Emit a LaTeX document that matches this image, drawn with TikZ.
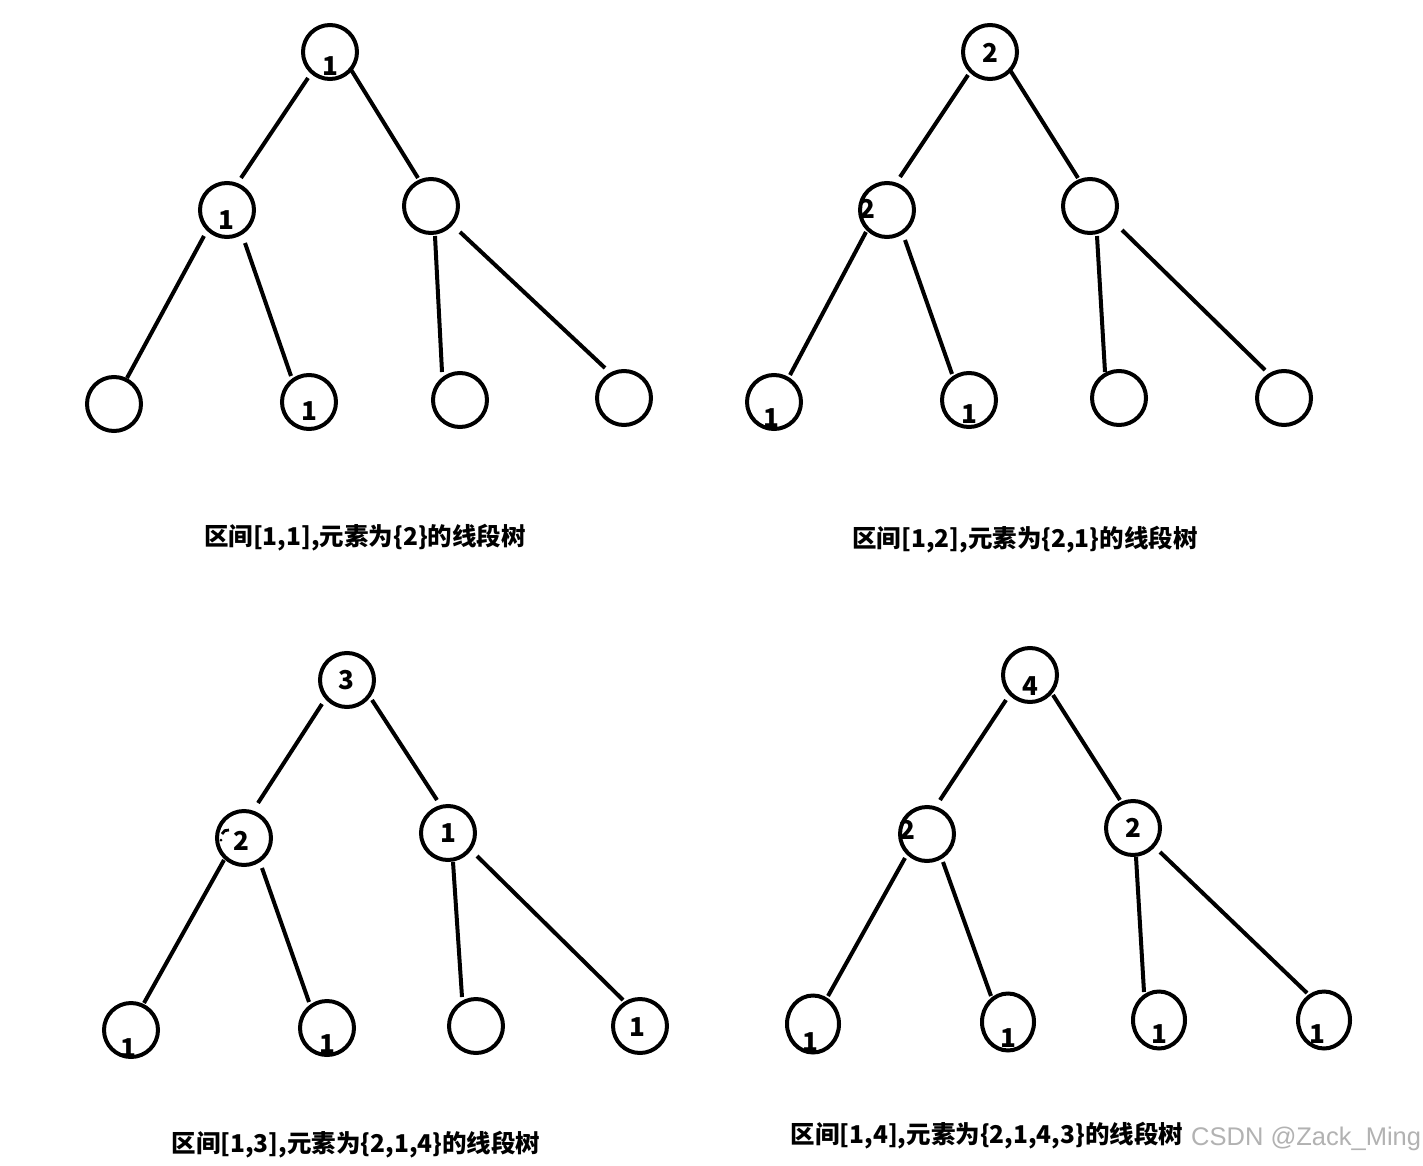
\documentclass[tikz,border=0pt]{standalone}
\usepackage{fontspec}
\usetikzlibrary{shapes.geometric}
\newfontfamily\cjk{Noto Sans CJK SC}
\newfontfamily\wmfont{Liberation Sans}
\newcommand\sedge[6]{\draw[lnk] ([shift={(#2,#3)}]#1.center) -- ([shift={(#5,#6)}]#4.center);}
\begin{document}
\begin{tikzpicture}[x=1pt,y=-1pt,
  nd/.style={draw,circle,line width=4pt,minimum size=54pt,inner sep=0pt},
  ndel/.style={draw,ellipse,line width=4pt,minimum width=52pt,minimum height=57pt,inner sep=0pt},
  lnk/.style={line width=4pt},
  num/.style={font=\cjk\bfseries\fontsize{26}{26}\selectfont,inner sep=0pt},
  captext/.style={font=\cjk\bfseries\fontsize{24.5}{27}\selectfont,inner sep=0pt},
  wmtext/.style={font=\wmfont\fontsize{25.5}{27}\selectfont,text=black!30,inner sep=0pt}]
\fill[white] (0,0) rectangle (1423,1166);
\useasboundingbox (0,0) rectangle (1423,1166);
% ---------- tree 1 ----------
\node[nd] (a0) at (330,52) {};
\node[nd] (a1) at (227,210) {};
\node[nd] (a2) at (431,206) {};
\node[nd] (a3) at (114,404) {};
\node[nd] (a4) at (309,402) {};
\node[nd] (a5) at (460,400) {};
\node[nd] (a6) at (624,398) {};
\node[num] (ta0) at (330,66) {1};
\node[num] (ta1) at (226,220) {1};
\node[num] (ta4) at (309,411) {1};
\sedge{a0}{-22}{26}{a1}{14}{-32}
\sedge{a0}{20}{16}{a2}{-13}{-28}
\sedge{a1}{-23}{26}{a3}{13}{-26}
\sedge{a1}{18}{33}{a4}{-18}{-26}
\sedge{a2}{4}{30}{a5}{-18}{-28}
\sedge{a2}{29}{26}{a6}{-19}{-30}
\node[captext] (ca) at (365,538) {区间[1,1],元素为\{2\}的线段树};
% ---------- tree 2 ----------
\node[nd] (b0) at (990,52) {};
\node[nd] (b1) at (887,210) {};
\node[nd] (b2) at (1090,206) {};
\node[nd] (b3) at (774,402) {};
\node[nd] (b4) at (969,400) {};
\node[nd] (b5) at (1119,398) {};
\node[nd] (b6) at (1284,398) {};
\node[num] (tb0) at (990,53) {2};
\node[num] (tb1) at (867,209) {2};
\node[num] (tb3) at (771,418) {1};
\node[num] (tb4) at (969,414) {1};
\sedge{b0}{-22}{23}{b1}{13}{-33}
\sedge{b0}{20}{18}{b2}{-12}{-28}
\sedge{b1}{-21}{22}{b3}{16}{-27}
\sedge{b1}{18}{30}{b4}{-17}{-26}
\sedge{b2}{7}{30}{b5}{-14}{-26}
\sedge{b2}{32}{24}{b6}{-19}{-28}
\node[captext] (cb) at (1025,540) {区间[1,2],元素为\{2,1\}的线段树};
% ---------- tree 3 ----------
\node[nd] (c0) at (347,680) {};
\node[nd] (c1) at (244,838) {};
\node[nd] (c2) at (448,833) {};
\node[nd] (c3) at (131,1030) {};
\node[nd] (c4) at (327,1028) {};
\node[nd] (c5) at (476,1026) {};
\node[nd] (c6) at (640,1026) {};
\node[num] (tc0) at (346,680) {3};
\node[num] (tc1) at (241,841) {2};
\node[num] (tc2) at (448,833) {1};
\node[num] (tc3) at (128,1048) {1};
\node[num] (tc4) at (327,1044) {1};
\node[num] (tc6) at (637,1027) {1};
\draw[line width=2.8pt] ([shift={(-15,-8)}]c1.center) to[bend right=40] ([shift={(-22,-4)}]c1.center);
\fill ([shift={(-23,2)}]c1.center) circle (1.5pt);
\sedge{c0}{-25}{24}{c1}{14}{-35}
\sedge{c0}{25}{20}{c2}{-11}{-33}
\sedge{c1}{-20}{22}{c3}{13}{-27}
\sedge{c1}{18}{30}{c4}{-18}{-26}
\sedge{c2}{5}{29}{c5}{-14}{-29}
\sedge{c2}{29}{23}{c6}{-17}{-26}
\node[captext] (cc) at (356,1145) {区间[1,3],元素为\{2,1,4\}的线段树};
% ---------- tree 4 ----------
\node[nd] (d0) at (1030,675) {};
\node[nd] (d1) at (927,834) {};
\node[nd] (d2) at (1133,828) {};
\node[ndel] (d3) at (813,1024) {};
\node[ndel] (d4) at (1008,1022) {};
\node[ndel] (d5) at (1159,1020) {};
\node[ndel] (d6) at (1324,1020) {};
\node[num] (td0) at (1030,686) {4};
\node[num] (td1) at (907,830) {2};
\node[num] (td2) at (1133,828) {2};
\node[num] (td3) at (810,1042) {1};
\node[num] (td4) at (1008,1038) {1};
\node[num] (td5) at (1159,1034) {1};
\node[num] (td6) at (1317,1034) {1};
\sedge{d0}{-24}{25}{d1}{13}{-34}
\sedge{d0}{23}{20}{d2}{-13}{-28}
\sedge{d1}{-22}{24}{d3}{15}{-28}
\sedge{d1}{16}{28}{d4}{-17}{-26}
\sedge{d2}{3}{29}{d5}{-15}{-28}
\sedge{d2}{27}{24}{d6}{-17}{-27}
\node[captext] (cd) at (987,1136) {区间[1,4],元素为\{2,1,4,3\}的线段树};
\node[wmtext,anchor=west] (wm) at (1191,1139) {CSDN @Zack\_Ming};
\end{tikzpicture}
\end{document}
